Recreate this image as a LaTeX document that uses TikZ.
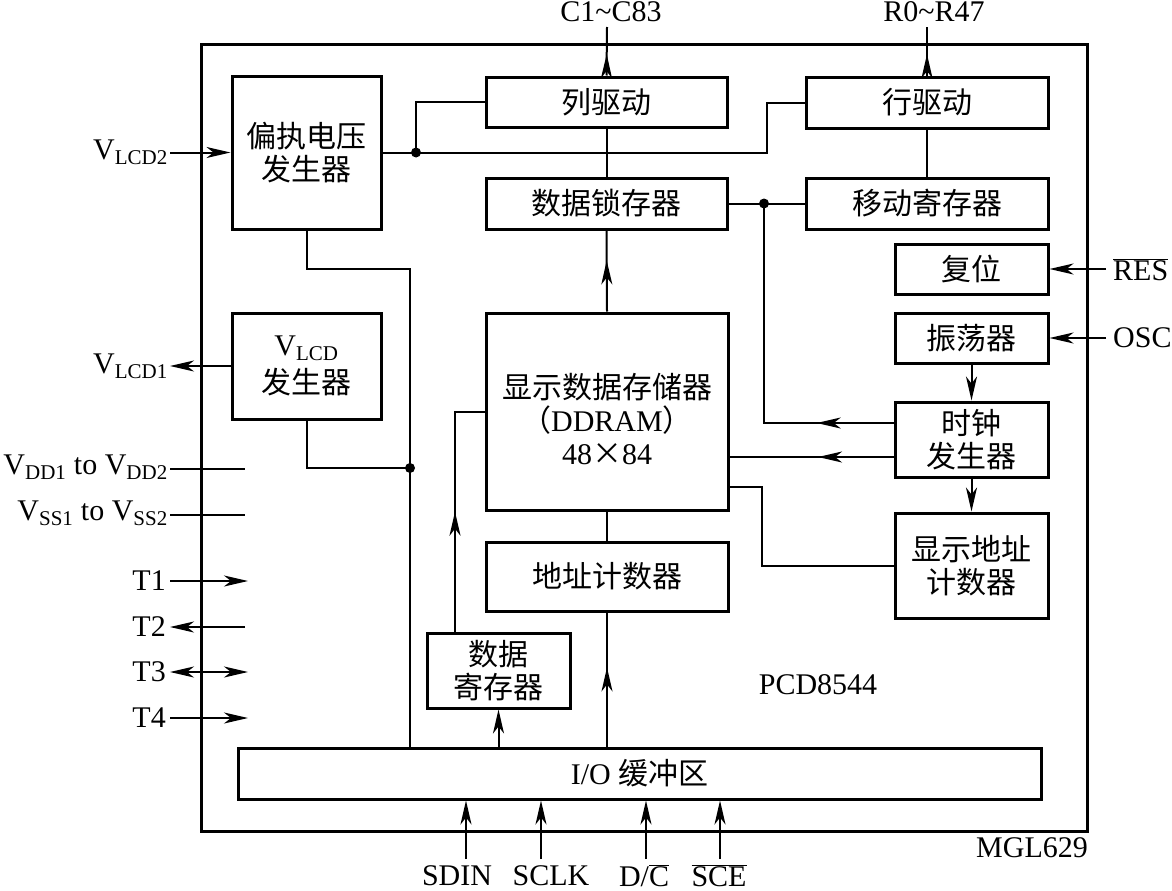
\documentclass[tikz,border=0pt]{standalone}
\usepackage{fontspec}
\setmainfont{Liberation Serif}
\IfFontExistsTF{FandolSong-Regular.otf}{\newfontfamily\cjk{FandolSong-Regular.otf}}{\newfontfamily\cjk{Noto Sans CJK SC}}
\usetikzlibrary{arrows.meta,decorations.markings,calc}
\tikzset{
  blk/.style={draw, line width=3pt, rectangle, inner sep=0pt, align=center, font=\fontsize{30}{33}\selectfont},
  conn/.style={line width=2pt},
  arr/.style={-{Stealth[length=24pt,width=11pt,inset=7pt]}},
  midarr/.style={postaction={decorate}, decoration={markings, mark=at position #1 with {\arrow{Stealth[length=24pt,width=11pt,inset=7pt]}}}},
  lbl/.style={font=\fontsize{30}{33}\selectfont, inner sep=0pt},
  jdot/.style={circle, fill, inner sep=0pt, minimum size=10pt},
}
\begin{document}
\begin{tikzpicture}[x=1pt,y=-1pt]
\useasboundingbox (0,0) rectangle (1172,891);
% frame
\node[draw, line width=3pt, minimum width=886, minimum height=786, inner sep=0pt] (chip) at (644,438) {};
% blocks
\node[blk, minimum width=149, minimum height=153] (bias) at (306.5,152.5) {{\cjk 偏执电压}\\{\cjk 发生器}};
\node[blk, minimum width=149, minimum height=106] (vlcd) at (306.5,366) {V\textsubscript{LCD}\\[5pt]{\cjk 发生器}};
\node[blk, minimum width=241, minimum height=50] (coldrv) at (606.5,102) {{\cjk 列驱动}};
\node[blk, minimum width=242, minimum height=51] (rowdrv) at (927,102.5) {{\cjk 行驱动}};
\node[blk, minimum width=241, minimum height=51] (latch) at (606.5,203.5) {{\cjk 数据锁存器}};
\node[blk, minimum width=242, minimum height=51] (shift) at (927,203.5) {{\cjk 移动寄存器}};
\node[blk, minimum width=153, minimum height=50] (reset) at (971.5,269) {{\cjk 复位}};
\node[blk, minimum width=153, minimum height=50] (osc) at (971.5,338) {{\cjk 振荡器}};
\node[blk, minimum width=153, minimum height=75] (clk) at (971.5,439.5) {{\cjk 时钟}\\{\cjk 发生器}};
\node[blk, minimum width=153, minimum height=105] (dac) at (971.5,565.5) {{\cjk 显示地址}\\{\cjk 计数器}};
\node[blk, minimum width=242, minimum height=197] (ddram) at (607,411.5) {};
\node[lbl, align=center] (ddramtxt) at ([yshift=-8pt]ddram.center) {{\cjk 显示数据存储器}\\{\cjk （}DDRAM{\cjk ）}\\48{\cjk ×}84};
\node[blk, minimum width=242, minimum height=69] (addr) at (607,576.5) {{\cjk 地址计数器}};
\node[blk, minimum width=143, minimum height=75] (dreg) at (498.5,670.5) {{\cjk 数据}\\{\cjk 寄存器}};
\node[blk, minimum width=803, minimum height=51] (io) at (639.5,773.5) {I/O {\cjk 缓冲区}};
% bias output bus
\coordinate (j1) at (416,152.5);
\coordinate (j2) at (767,152.5);
\draw[conn] (bias.east) -- (j2) |- (rowdrv.west);
\draw[conn] (j1) |- (coldrv.west);
\node[jdot] at (j1) {};
% VLCD2 input
\coordinate (vl2) at (170,152.5);
\draw[conn, arr] (vl2) -- (bias.west);
\node[lbl, anchor=east] (lvl2) at (168,152) {V\textsubscript{LCD2}};
% column / row outputs
\coordinate (c83) at (607,27);
\draw[conn, midarr=0.44] (coldrv.north) -- (c83);
\node[lbl] (lc83) at (611,12) {C1\char`\~C83};
\coordinate (r47) at (927,27);
\draw[conn, midarr=0.44] (rowdrv.north) -- (r47);
\node[lbl] (lr47) at (934,12) {R0\char`\~R47};
\draw[conn] (coldrv.south) -- (latch.north);
\draw[conn] (rowdrv.south) -- (shift.north);
% latch / shift
\coordinate (j3) at (764,203.5);
\draw[conn] (latch.east) -- (shift.west);
\node[jdot] at (j3) {};
\coordinate (ck1) at ([yshift=16.5pt]clk.west);
\draw[conn, midarr=0.22] (ck1) -| (j3);
\coordinate (ck2) at ([yshift=-17.5pt]clk.west);
\draw[conn, midarr=0.46] (ck2) -- (ck2 -| ddram.east);
\draw[conn, arr] (osc.south) -- (clk.north);
\draw[conn, arr] (clk.south) -- (dac.north);
% RES / OSC
\coordinate (res) at (1106,269);
\draw[conn, arr] (res) -- (reset.east);
\node[lbl, anchor=west] (lres) at (1113,270) {$\overline{\hbox{RES}}$};
\coordinate (osci) at (1106,338);
\draw[conn, arr] (osci) -- (osc.east);
\node[lbl, anchor=west] (losc) at (1113,338) {OSC};
% DDRAM to display address counter
\coordinate (dd1) at ([yshift=-75.5pt]ddram.east);
\draw[conn] (dd1) -- ++(32,0) |- (dac.west);
% vertical data path
\draw[conn, midarr=0.63] (ddram.north) -- (latch.south);
\draw[conn] (ddram.south) -- (addr.north);
\draw[conn, midarr=0.59] (io.north -| addr.south) -- (addr.south);
\draw[conn, arr] (io.north -| dreg.south) -- (dreg.south);
\coordinate (dr) at ([xshift=-43.5pt]dreg.north);
\draw[conn, midarr=0.48] (dr) |- (ddram.west);
% bias / vlcd to io
\coordinate (bus) at (410,269);
\draw[conn] (bias.south) |- (bus) -- (bus |- io.north);
\coordinate (j4) at (410,468);
\draw[conn] (vlcd.south) |- (j4);
\node[jdot] at (j4) {};
% VLCD1 output
\coordinate (vl1) at (170,366);
\draw[conn, arr] (vlcd.west) -- (vl1);
\node[lbl, anchor=east] (lvl1) at (168,366) {V\textsubscript{LCD1}};
% supplies
\coordinate (vdda) at (170,469);
\coordinate (vddb) at (245,469);
\draw[conn] (vdda) -- (vddb);
\node[lbl, anchor=east] (lvdd) at (168,467) {V\textsubscript{DD1} to V\textsubscript{DD2}};
\coordinate (vssa) at (170,515);
\coordinate (vssb) at (245,515);
\draw[conn] (vssa) -- (vssb);
\node[lbl, anchor=east] (lvss) at (168,513) {V\textsubscript{SS1} to V\textsubscript{SS2}};
% test pins
\coordinate (t1a) at (170,581); \coordinate (t1b) at (248,581);
\draw[conn, arr] (t1a) -- (t1b);
\node[lbl, anchor=east] (lt1) at (166,581) {T1};
\coordinate (t2a) at (170,627); \coordinate (t2b) at (245,627);
\draw[conn, arr] (t2b) -- (t2a);
\node[lbl, anchor=east] (lt2) at (166,627) {T2};
\coordinate (t3a) at (170,672); \coordinate (t3b) at (248,672);
\draw[conn, {Stealth[length=24pt,width=11pt,inset=7pt]}-{Stealth[length=24pt,width=11pt,inset=7pt]}] (t3a) -- (t3b);
\node[lbl, anchor=east] (lt3) at (166,672) {T3};
\coordinate (t4a) at (170,718); \coordinate (t4b) at (248,718);
\draw[conn, arr] (t4a) -- (t4b);
\node[lbl, anchor=east] (lt4) at (166,718) {T4};
% serial inputs
\coordinate (sdin) at (466,859);
\draw[conn, arr] (sdin) -- (sdin |- io.south);
\node[lbl] (lsdin) at (457,876) {SDIN};
\coordinate (sclk) at (541,859);
\draw[conn, arr] (sclk) -- (sclk |- io.south);
\node[lbl] (lsclk) at (551,876) {SCLK};
\coordinate (dc) at (646,859);
\draw[conn, arr] (dc) -- (dc |- io.south);
\node[lbl] (ldc) at (644,876) {D/$\overline{\hbox{C}}$};
\coordinate (sce) at (720,859);
\draw[conn, arr] (sce) -- (sce |- io.south);
\node[lbl] (lsce) at (719,876) {$\overline{\hbox{SCE}}$};
% labels
\node[lbl] (pcd) at (818,685) {PCD8544};
\node[lbl] (mgl) at (1032,848) {MGL629};
\end{tikzpicture}
\end{document}
